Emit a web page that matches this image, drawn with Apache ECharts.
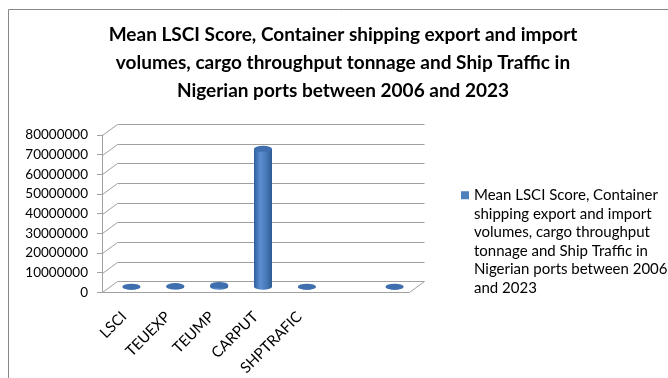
<!DOCTYPE html>
<html><head><meta charset="utf-8">
<script src="https://cdn.jsdelivr.net/npm/echarts@6/dist/echarts.min.js"></script>
<style>html,body{margin:0;padding:0;background:#fff}#c{width:668px;height:378px}</style>
</head><body><div id="c"></div>
<script>
// ---- data ----
const categories = ['LSCI', 'TEUEXP', 'TEUMP', 'CARPUT', 'SHPTRAFIC', '', ''];
const values = [20, 300000, 900000, 70200000, 6000, null, 15000];
const yTickValues = [0, 10000000, 20000000, 30000000, 40000000, 50000000, 60000000, 70000000, 80000000];
const seriesName = 'Mean LSCI Score, Container shipping export and import volumes, cargo throughput tonnage and Ship Traffic in Nigerian ports between 2006 and 2023';
const legendLines = ['Mean LSCI Score, Container', 'shipping export and import', 'volumes, cargo throughput', 'tonnage and Ship Traffic in', 'Nigerian ports between 2006', 'and 2023'];
const titleLines = ['Mean LSCI Score, Container shipping export and import', 'volumes, cargo throughput tonnage and Ship Traffic in', 'Nigerian ports between 2006 and 2023'];

// ---- style ----
const DX = 15, DY = 11;
const GRID_COLOR = '#a0a0a0';
const FONT = 'Lato';
const LEG_LH = 18.5;
const LEG_H = LEG_LH * legendLines.length;

const chart = echarts.init(document.getElementById('c'));

function ellipsePath(cx, cy, rx, ry) {
  return `M${cx - rx} ${cy} A${rx} ${ry} 0 1 0 ${cx + rx} ${cy} A${rx} ${ry} 0 1 0 ${cx - rx} ${cy} Z`;
}

function renderWall(params, api) {
  const v = api.value(1);
  const cs = params.coordSys;
  const y = Math.round(api.coord([0, v])[1]) + 0.5;
  const x0 = Math.round(cs.x) + 0.5, x1 = Math.round(cs.x + cs.width) + 0.5;
  const st = { stroke: GRID_COLOR, lineWidth: 1 };
  const children = [
    { type: 'line', shape: { x1: x0, y1: y, x2: x0 + DX, y2: y - DY }, style: st },
    { type: 'line', shape: { x1: x0 + DX, y1: y - DY, x2: x1 + DX, y2: y - DY }, style: st }
  ];
  if (v === 0) {
    children.push({ type: 'line', shape: { x1: x1, y1: y, x2: x1 + DX, y2: y - DY }, style: st });
  }
  return { type: 'group', children };
}

function renderCyl(params, api) {
  const i = api.value(0), v = api.value(1);
  const base = api.coord([i, 0]);
  const top = api.coord([i, v]);
  const cx = base[0] + DX / 2, by = base[1] - DY / 2, ty = top[1] - DY / 2;
  const rx = 9, ry = 3;
  const l = cx - rx, r = cx + rx;
  const body = `M${l} ${ty} L${l} ${by} A${rx} ${ry} 0 0 0 ${r} ${by} L${r} ${ty} Z`;
  const grad = new echarts.graphic.LinearGradient(0, 0, 1, 0, [
    { offset: 0, color: '#2f5f9c' },
    { offset: 0.35, color: '#5b8fd1' },
    { offset: 0.7, color: '#4677b6' },
    { offset: 1, color: '#2d5a92' }
  ]);
  return {
    type: 'group',
    children: [
      { type: 'path', shape: { pathData: body }, style: { fill: grad } },
      { type: 'path', shape: { pathData: ellipsePath(cx, ty, rx, ry) }, style: { fill: '#3f6fae' } }
    ]
  };
}

const cylData = [];
values.forEach((v, i) => { if (v != null) cylData.push([i, v]); });

chart.setOption({
  animation: false,
  backgroundColor: '#fff',
  title: {
    text: titleLines.join('\n'),
    left: 343,
    top: 21,
    padding: 0,
    textAlign: 'center',
    textStyle: { fontFamily: FONT, fontSize: 19, fontWeight: 'bold', color: '#000', lineHeight: 28 }
  },
  legend: {
    data: [{ name: seriesName, icon: `path://M0,0M0,${LEG_H}M0,5.25L8,5.25L8,13.25L0,13.25Z` }],
    left: 461,
    top: 186,
    padding: 0,
    orient: 'vertical',
    itemWidth: 8,
    itemHeight: LEG_H,
    formatter: () => legendLines.join('\n'),
    textStyle: { fontFamily: FONT, fontSize: 15, color: '#000', lineHeight: LEG_LH }
  },
  graphic: [{
    type: 'rect', silent: true, z: -10,
    shape: { x: 8.5, y: 9.5, width: 700, height: 400 },
    style: { fill: 'none', stroke: '#888', lineWidth: 1 }
  }],
  grid: { left: 102, right: 259, top: 135, bottom: 83, containLabel: false },
  xAxis: {
    type: 'category',
    data: categories,
    boundaryGap: true,
    axisLine: { lineStyle: { color: GRID_COLOR } },
    axisTick: { length: 5, lineStyle: { color: GRID_COLOR } },
    axisLabel: { rotate: 45, margin: 22, fontFamily: FONT, fontSize: 15, color: '#000', interval: 0 },
    splitLine: { show: false }
  },
  yAxis: {
    type: 'value',
    min: yTickValues[0],
    max: yTickValues[yTickValues.length - 1],
    interval: yTickValues[1] - yTickValues[0],
    axisLine: { show: true, lineStyle: { color: GRID_COLOR } },
    axisTick: { show: true, length: 5, lineStyle: { color: GRID_COLOR } },
    axisLabel: { margin: 14, fontFamily: FONT, fontSize: 13.5, color: '#000', formatter: v => String(v) },
    splitLine: { show: false }
  },
  series: [
    {
      type: 'custom', name: 'wall', z: 1, clip: false, silent: true,
      renderItem: renderWall,
      encode: { x: 0, y: 1 },
      data: yTickValues.map(v => [0, v])
    },
    {
      type: 'custom', name: seriesName, z: 3, clip: false,
      itemStyle: { color: '#4f81bd' },
      renderItem: renderCyl,
      encode: { x: 0, y: 1 },
      data: cylData
    }
  ]
});
</script></body></html>
